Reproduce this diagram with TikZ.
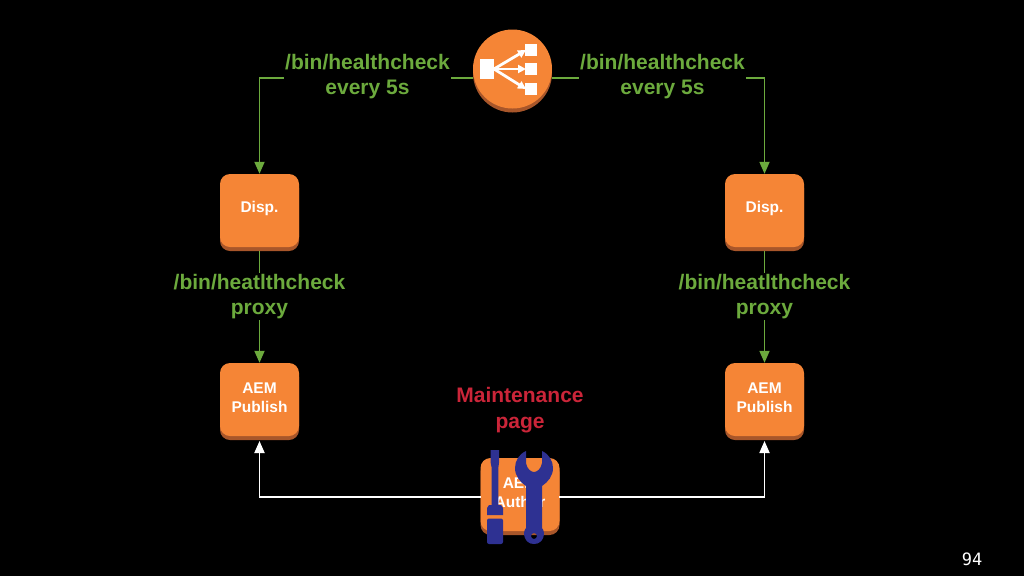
\documentclass[tikz,border=0pt]{standalone}
\usepackage{fontspec}
\setmainfont{Liberation Sans}
\newfontfamily\pagefont{DejaVu Sans Mono}
\usetikzlibrary{arrows.meta,shadows}
\definecolor{awsorange}{HTML}{F58536}
\definecolor{awslip}{HTML}{A8562A}
\definecolor{checkgreen}{HTML}{6CAA3D}
\definecolor{maintred}{HTML}{CB2539}
\definecolor{toolblue}{HTML}{2E3192}
\tikzset{every shadow/.style={fill=awslip,opacity=1,shadow xshift=0pt,shadow yshift=-4pt}}
\tikzset{awsbox/.style={fill=awsorange,rounded corners=10pt,minimum width=79pt,minimum height=73pt,inner sep=0pt,drop shadow}}
\tikzset{boxtext/.style={align=center,text=white,font=\bfseries\fontsize{15.5}{19}\selectfont,inner sep=0pt,yshift=2pt}}
\tikzset{checklabel/.style={fill=black,align=center,text=checkgreen,font=\bfseries\fontsize{21}{25.5}\selectfont,inner sep=1pt}}
\tikzset{greenline/.style={draw=checkgreen,line width=1.8pt,-{Triangle[length=12pt,width=10pt]}}}
\tikzset{whiteline/.style={draw=white,line width=1.8pt,-{Triangle[length=12pt,width=10pt]}}}
\tikzset{lbsquare/.style={fill=white}}
\tikzset{lbarrow/.style={draw=white,line width=2.8pt,-{Triangle[length=8pt,width=8pt]}}}
\begin{document}
\begin{tikzpicture}[x=1pt,y=-1pt]
\useasboundingbox (0,0) rectangle (1024,576);
\fill[black] (0,0) rectangle (1024,576);
% load balancer
\node (lb) [circle,fill=awsorange,minimum size=79pt,inner sep=0pt,drop shadow] at (512.5,69) {};
\coordinate (lbl) at (473,78);
\coordinate (lbr) at (552,78);
\fill[lbsquare] (480,59) rectangle (494,79);
\fill[lbsquare] (525,44) rectangle (537,56);
\fill[lbsquare] (525,63) rectangle (537,75);
\fill[lbsquare] (525,83) rectangle (537,95);
\draw[lbarrow] (494,69) -- (526,50);
\draw[lbarrow] (494,69) -- (526,69);
\draw[lbarrow] (494,69) -- (526,89);
% boxes
\node (displ) [awsbox,label={[boxtext]center:Disp.}] at (259.5,210.5) {};
\node (dispr) [awsbox,label={[boxtext]center:Disp.}] at (764.5,210.5) {};
\node (publ) [awsbox,label={[boxtext]center:AEM\\Publish}] at (259.5,399.5) {};
\node (pubr) [awsbox,label={[boxtext]center:AEM\\Publish}] at (764.5,399.5) {};
\node (author) [awsbox,label={[boxtext]center:AEM\\Author}] at (520,494.5) {};
\coordinate (publb) at (259.5,441);
\coordinate (pubrb) at (764.5,441);
\coordinate (dispb) at (259.5,251);
\coordinate (disprb) at (764.5,251);
\coordinate (authl) at (481,497);
\coordinate (authr) at (559,497);
%
\draw[greenline] (lbl) -| (displ);
\draw[greenline] (lbr) -| (dispr);
\draw[greenline] (dispb) -- (publ);
\draw[greenline] (disprb) -- (pubr);
\draw[whiteline] (authl) -| (publb);
\draw[whiteline] (authr) -| (pubrb);
%
\node (hcl) [checklabel] at (367.5,76.5) {/bin/healthcheck\\every 5s};
\node (hcr) [checklabel] at (662.5,76.5) {/bin/healthcheck\\every 5s};
\node (proxyl) [checklabel] at (259.5,296.5) {/bin/heatlthcheck\\proxy};
\node (proxyr) [checklabel] at (764.5,296.5) {/bin/heatlthcheck\\proxy};
\node (maint) [font=\bfseries\fontsize{21}{25.5}\selectfont,text=maintred,align=center] at (520,410) {Maintenance\\page};
% screwdriver
\fill[toolblue] (490.7,450) -- (499,450) -- (499,463) -- (498.3,468) -- (498.3,505) -- (501,505) -- (503,508) -- (503,515) -- (487,515) -- (487,508) -- (489,505) -- (491.7,505) -- (491.7,468) -- (490.7,463) -- cycle;
\fill[toolblue,rounded corners=2pt] (487,518.5) rectangle (503,544);
% wrench
\fill[toolblue,even odd rule] (526,451) .. controls (519,454) and (515,461) .. (515,468) .. controls (515,476) and (520,482) .. (526,486) -- (526,528) .. controls (522,532) and (524,544) .. (534,544) .. controls (544,544) and (546,532) .. (542,528) -- (542,486) .. controls (548,482) and (553,476) .. (553,468) .. controls (553,461) and (549,454) .. (542,451) -- (542,463) .. controls (541,469) and (537,472) .. (534,472) .. controls (531,472) and (527,469) .. (526,463) -- cycle (537,536) arc[start angle=0,end angle=360,radius=3];
\node (pagenum) [text=white,font=\pagefont\fontsize{17}{20}\selectfont] at (972,559) {94};
\end{tikzpicture}
\end{document}
